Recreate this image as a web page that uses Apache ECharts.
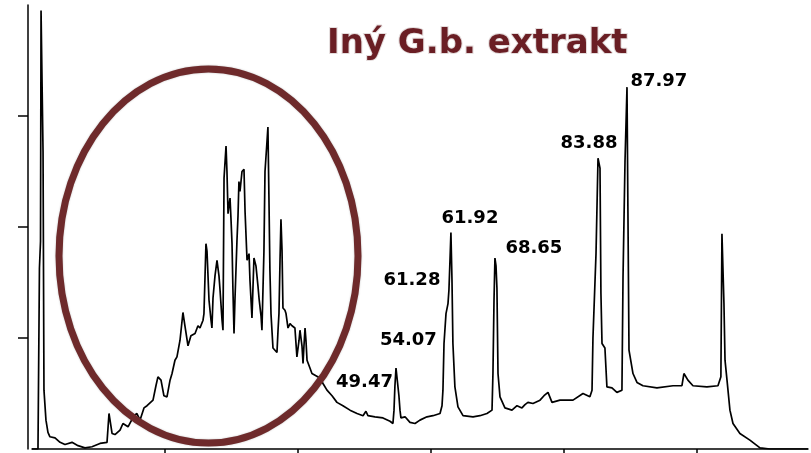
<!DOCTYPE html>
<html>
<head>
<meta charset="utf-8">
<script src="https://cdn.jsdelivr.net/npm/echarts@6/dist/echarts.min.js"></script>
<style>
  html, body { margin: 0; padding: 0; background: #fff; }
  #chart { width: 811px; height: 453px; }
</style>
</head>
<body>
<div id="chart"></div>
<script>
// retention time (min) and detector signal
const time = [
  0, 0.45, 0.53, 0.56, 0.64, 0.68, 0.75, 0.83, 0.90, 1.05, 1.20, 1.35, 1.73, 2.11, 2.48, 3.01, 3.46, 3.98, 4.51, 5.11,
  5.64, 5.79, 5.86, 6.02, 6.24, 6.62, 6.84, 7.22, 7.67, 7.89, 8.12, 8.42, 8.65, 9.10, 9.32, 9.47, 9.70, 9.92, 10.15, 10.38,
  10.53, 10.75, 10.90, 11.13, 11.35, 11.50, 11.73, 11.95, 12.26, 12.48, 12.63, 12.86, 12.93, 13.08, 13.16, 13.31, 13.46, 13.53, 13.61, 13.76,
  13.91, 14.06, 14.14, 14.29, 14.36, 14.44, 14.59, 14.66, 14.74, 14.81, 14.89, 14.96, 15.04, 15.11, 15.19, 15.26, 15.41, 15.49, 15.56, 15.64,
  15.79, 15.94, 16.02, 16.17, 16.32, 16.39, 16.54, 16.69, 16.84, 16.99, 17.07, 17.22, 17.29, 17.44, 17.52, 17.67, 17.74, 17.82, 17.89, 17.97,
  18.12, 18.27, 18.42, 18.50, 18.57, 18.65, 18.72, 18.80, 18.87, 19.02, 19.10, 19.25, 19.40, 19.55, 19.77, 19.92, 20.08, 20.15, 20.30, 20.38,
  20.45, 20.53, 20.60, 20.68, 20.90, 21.05, 21.35, 21.65, 21.88, 22.18, 22.56, 22.93, 23.38, 23.91, 24.44, 24.89, 25.11, 25.26, 25.79, 26.39,
  26.92, 27.14, 27.22, 27.29, 27.37, 27.52, 27.59, 27.67, 27.74, 28.05, 28.42, 28.80, 29.17, 29.70, 30.15, 30.68, 30.83, 30.90, 30.98, 31.13,
  31.28, 31.35, 31.43, 31.50, 31.58, 31.65, 31.80, 32.03, 32.41, 33.16, 33.68, 34.21, 34.59, 34.66, 34.74, 34.81, 34.89, 34.96, 35.04, 35.19,
  35.56, 36.09, 36.47, 36.84, 37.07, 37.29, 37.67, 38.20, 38.50, 38.80, 39.10, 39.70, 40.68, 41.43, 41.95, 42.11, 42.18, 42.41, 42.56, 42.71,
  42.78, 42.86, 43.08, 43.23, 43.61, 43.98, 44.36, 44.44, 44.59, 44.74, 44.81, 44.89, 45.19, 45.49, 45.94, 46.99, 48.20, 48.87, 49.02, 49.32,
  49.70, 50.75, 51.58, 51.80, 51.88, 52.03, 52.11, 52.26, 52.48, 52.71, 53.23, 53.98, 54.74, 55.49, 58.35
];
const signal = [
  0, 0, 0.01, 1.63, 1.87, 3.95, 3.95, 2.68, 0.53, 0.26, 0.15, 0.11, 0.10, 0.06, 0.04, 0.06, 0.03, 0.01, 0.02, 0.05,
  0.06, 0.32, 0.32, 0.14, 0.13, 0.17, 0.23, 0.20, 0.30, 0.32, 0.26, 0.37, 0.39, 0.44, 0.57, 0.65, 0.62, 0.48, 0.47, 0.62,
  0.68, 0.80, 0.83, 0.98, 1.23, 1.11, 0.93, 1.02, 1.04, 1.11, 1.09, 1.16, 1.22, 1.85, 1.78, 1.34, 1.16, 1.09, 1.36, 1.56,
  1.70, 1.56, 1.43, 1.16, 1.07, 2.44, 2.73, 2.50, 2.12, 2.19, 2.26, 2.08, 1.85, 1.43, 1.04, 1.34, 1.87, 2.10, 2.41, 2.32,
  2.50, 2.52, 2.14, 1.70, 1.76, 1.52, 1.18, 1.72, 1.65, 1.47, 1.36, 1.20, 1.07, 1.78, 2.50, 2.77, 2.90, 2.23, 1.61, 1.22,
  0.91, 0.89, 0.87, 1.07, 1.22, 1.70, 2.07, 1.79, 1.27, 1.25, 1.22, 1.09, 1.13, 1.11, 1.09, 0.83, 0.98, 1.07, 0.93, 0.77,
  0.93, 1.09, 0.98, 0.80, 0.73, 0.68, 0.66, 0.64, 0.59, 0.53, 0.48, 0.42, 0.39, 0.35, 0.32, 0.30, 0.34, 0.30, 0.29, 0.28,
  0.25, 0.23, 0.35, 0.57, 0.73, 0.73, 0.48, 0.35, 0.28, 0.29, 0.24, 0.23, 0.26, 0.29, 0.30, 0.32, 0.39, 0.53, 0.95, 1.22,
  1.31, 1.43, 1.70, 1.95, 1.52, 0.95, 0.56, 0.38, 0.30, 0.29, 0.30, 0.32, 0.35, 0.68, 1.34, 1.72, 1.65, 1.45, 0.68, 0.47,
  0.37, 0.35, 0.39, 0.37, 0.40, 0.42, 0.41, 0.44, 0.48, 0.51, 0.42, 0.44, 0.44, 0.50, 0.47, 0.53, 1.00, 1.76, 2.62, 2.53,
  1.40, 0.95, 0.91, 0.56, 0.55, 0.51, 0.53, 1.54, 2.59, 3.26, 2.14, 0.89, 0.68, 0.60, 0.57, 0.55, 0.57, 0.57, 0.68, 0.62,
  0.57, 0.56, 0.57, 0.65, 1.94, 1.31, 0.80, 0.62, 0.35, 0.23, 0.14, 0.08, 0.01, 0, 0
];

// peak annotations and where their text sits
const peakLabels = ['49.47', '54.07', '61.28', '61.92', '68.65', '83.88', '87.97'];
const labelTime = [25.0, 28.3, 28.57, 32.93, 37.74, 41.88, 47.14];
const labelSignal = [0.60, 0.98, 1.52, 2.08, 1.81, 2.75, 3.31];

const xTicks = [10, 20, 30, 40, 50];
const yTicks = [1, 2, 3];

const chartTitle = 'Iný G.b. extrakt';

var chart = echarts.init(document.getElementById('chart'), null, { renderer: 'canvas' });

const option = {
    animation: false,
    backgroundColor: '#fff',
    title: {
        text: chartTitle,
        left: 327,
        top: 27,
        padding: 0,
        textStyle: {
            fontFamily: 'DejaVu Sans',
            fontWeight: 'bold',
            fontSize: 34,
            color: '#6a1e24',
            textBorderColor: '#e4dcdc',
            textBorderWidth: 2
        }
    },
    grid: { left: 32, right: 3, top: 5, bottom: 4 },
    xAxis: {
        type: 'value',
        min: 0,
        max: 58.35,
        interval: 10,
        axisLine: { onZero: false, lineStyle: { color: '#000', width: 1.5 } },
        axisTick: { show: true, length: 6, customValues: xTicks, lineStyle: { color: '#000', width: 1.5 } },
        axisLabel: { show: false },
        splitLine: { show: false }
    },
    yAxis: {
        type: 'value',
        min: 0,
        max: 4,
        interval: 1,
        offset: 4,
        axisLine: { show: true, onZero: false, lineStyle: { color: '#000', width: 1.5 } },
        axisTick: { show: true, length: 10, customValues: yTicks, lineStyle: { color: '#000', width: 1.5 } },
        axisLabel: { show: false },
        splitLine: { show: false }
    },
    series: [
        {
            name: 'signal',
            type: 'line',
            data: time.map((t, i) => [t, signal[i]]),
            showSymbol: false,
            silent: true,
            lineStyle: { color: '#000', width: 1.7 },
            z: 2
        },
        {
            name: 'peaks',
            type: 'scatter',
            symbolSize: 0,
            silent: true,
            itemStyle: { opacity: 1 },
            data: peakLabels.map((name, i) => ({ name: name, value: [labelTime[i], labelSignal[i]] })),
            label: {
                show: true,
                position: 'inside',
                formatter: '{b}',
                fontFamily: 'DejaVu Sans',
                fontWeight: 'bold',
                fontSize: 18,
                color: '#000',
                textBorderColor: '#fff',
                textBorderWidth: 1
            },
            z: 5
        }
    ],
    graphic: [
        {
            type: 'ellipse',
            shape: { cx: 208.5, cy: 256, rx: 149.5, ry: 187 },
            style: { fill: null, stroke: '#6e2a2b', lineWidth: 7, shadowColor: 'rgba(0,0,0,0.25)', shadowBlur: 2 },
            z: 10,
            silent: true
        }
    ]
};

chart.setOption(option);
window.addEventListener('resize', chart.resize);
</script>
</body>
</html>
